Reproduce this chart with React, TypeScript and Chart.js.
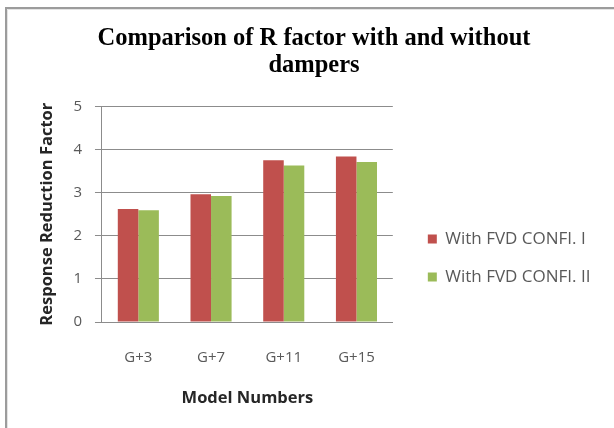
import React, { useEffect, useRef } from "react";
import { Chart, registerables } from "chart.js";

Chart.register(...registerables);

const categories = ["G+3", "G+7", "G+11", "G+15"];
const seriesNames = ["With FVD CONFI. I", "With FVD CONFI. II"];
const config1Values = [2.62, 2.96, 3.75, 3.84];
const config2Values = [2.59, 2.92, 3.63, 3.71];
const yTicks = [0, 1, 2, 3, 4, 5];
const titleLines = ["Comparison of R factor with and without", "dampers"];
const xTitle = "Model Numbers";
const yTitle = "Response Reduction Factor";

const framePlugin = {
  id: "frame",
  beforeDraw(chart: any) {
    const ctx = chart.ctx;
    ctx.save();
    ctx.fillStyle = "#ffffff";
    ctx.fillRect(0, 0, chart.width, chart.height);
    ctx.strokeStyle = "#9c9c9c";
    ctx.lineWidth = 2;
    ctx.beginPath();
    ctx.moveTo(6, chart.height);
    ctx.lineTo(6, 8);
    ctx.lineTo(chart.width, 8);
    ctx.stroke();
    ctx.strokeStyle = "#e4e4e4";
    ctx.lineWidth = 1;
    ctx.beginPath();
    ctx.moveTo(7.5, chart.height);
    ctx.lineTo(7.5, 9.5);
    ctx.lineTo(chart.width, 9.5);
    ctx.stroke();
    ctx.restore();
  },
};

export default function App() {
  const ref = useRef<HTMLCanvasElement | null>(null);

  useEffect(() => {
    document.body.style.margin = "0";
    if (!ref.current) return;
    const chart = new Chart(ref.current, {
      type: "bar",
      data: {
        labels: categories,
        datasets: [
          {
            label: seriesNames[0],
            data: config1Values,
            backgroundColor: "#c0504d",
            categoryPercentage: 0.565,
            barPercentage: 1,
          },
          {
            label: seriesNames[1],
            data: config2Values,
            backgroundColor: "#9bbb59",
            categoryPercentage: 0.565,
            barPercentage: 1,
          },
        ],
      },
      options: {
        responsive: false,
        animation: false,
        layout: { padding: { left: 27.5, right: 13.5, top: 0, bottom: 10 } },
        plugins: {
          title: {
            display: true,
            text: titleLines,
            color: "#000000",
            font: { family: "Liberation Serif", size: 24.5, weight: "bold", lineHeight: 1.1 },
            padding: { top: 25, bottom: 27.5 },
          },
          legend: {
            position: "right",
            maxWidth: 240,
            title: {
              display: true,
              text: " ",
              font: { size: 12, lineHeight: 1.2 },
              padding: { top: 83.6, bottom: 0 },
            },
            labels: {
              boxWidth: 9,
              boxHeight: 9,
              padding: 21,
              color: "#595959",
              font: { family: "Open Sans", size: 17 },
            },
          },
          tooltip: { enabled: false },
        },
        scales: {
          x: {
            grid: { display: false, drawTicks: true, tickLength: 22 },
            border: { display: true, color: "#8c8c8c" },
            ticks: {
              padding: 5,
              color: "#595959",
              font: { family: "Open Sans", size: 15 },
            },
            title: {
              display: true,
              text: xTitle,
              color: "#262626",
              font: { family: "Open Sans", size: 16.5, weight: "bold", lineHeight: 1.2 },
              padding: { top: 16.7, bottom: 9.5 },
            },
          },
          y: {
            min: 0,
            max: 5,
            afterBuildTicks(scale: any) {
              scale.ticks = yTicks.map((v) => ({ value: v }));
            },
            grid: { color: "#8c8c8c", tickLength: 7, drawTicks: true },
            border: { display: true, color: "#8c8c8c" },
            ticks: {
              padding: 13,
              color: "#595959",
              font: { family: "Open Sans", size: 15 },
            },
            title: {
              display: true,
              text: yTitle,
              color: "#262626",
              font: { family: "Open Sans", size: 16.5, weight: "bold", lineHeight: 1.2 },
              padding: { top: 9.6, bottom: 3.5 },
            },
          },
          gap: {
            position: "right",
            display: true,
            grid: { display: false, drawTicks: false },
            border: { display: false },
            ticks: { display: false },
            afterFit(scale: any) {
              scale.width = 14;
            },
          },
        },
      } as any,
      plugins: [framePlugin],
    });
    return () => chart.destroy();
  }, []);

  return <canvas ref={ref} width={614} height={428} style={{ display: "block" }} />;
}
